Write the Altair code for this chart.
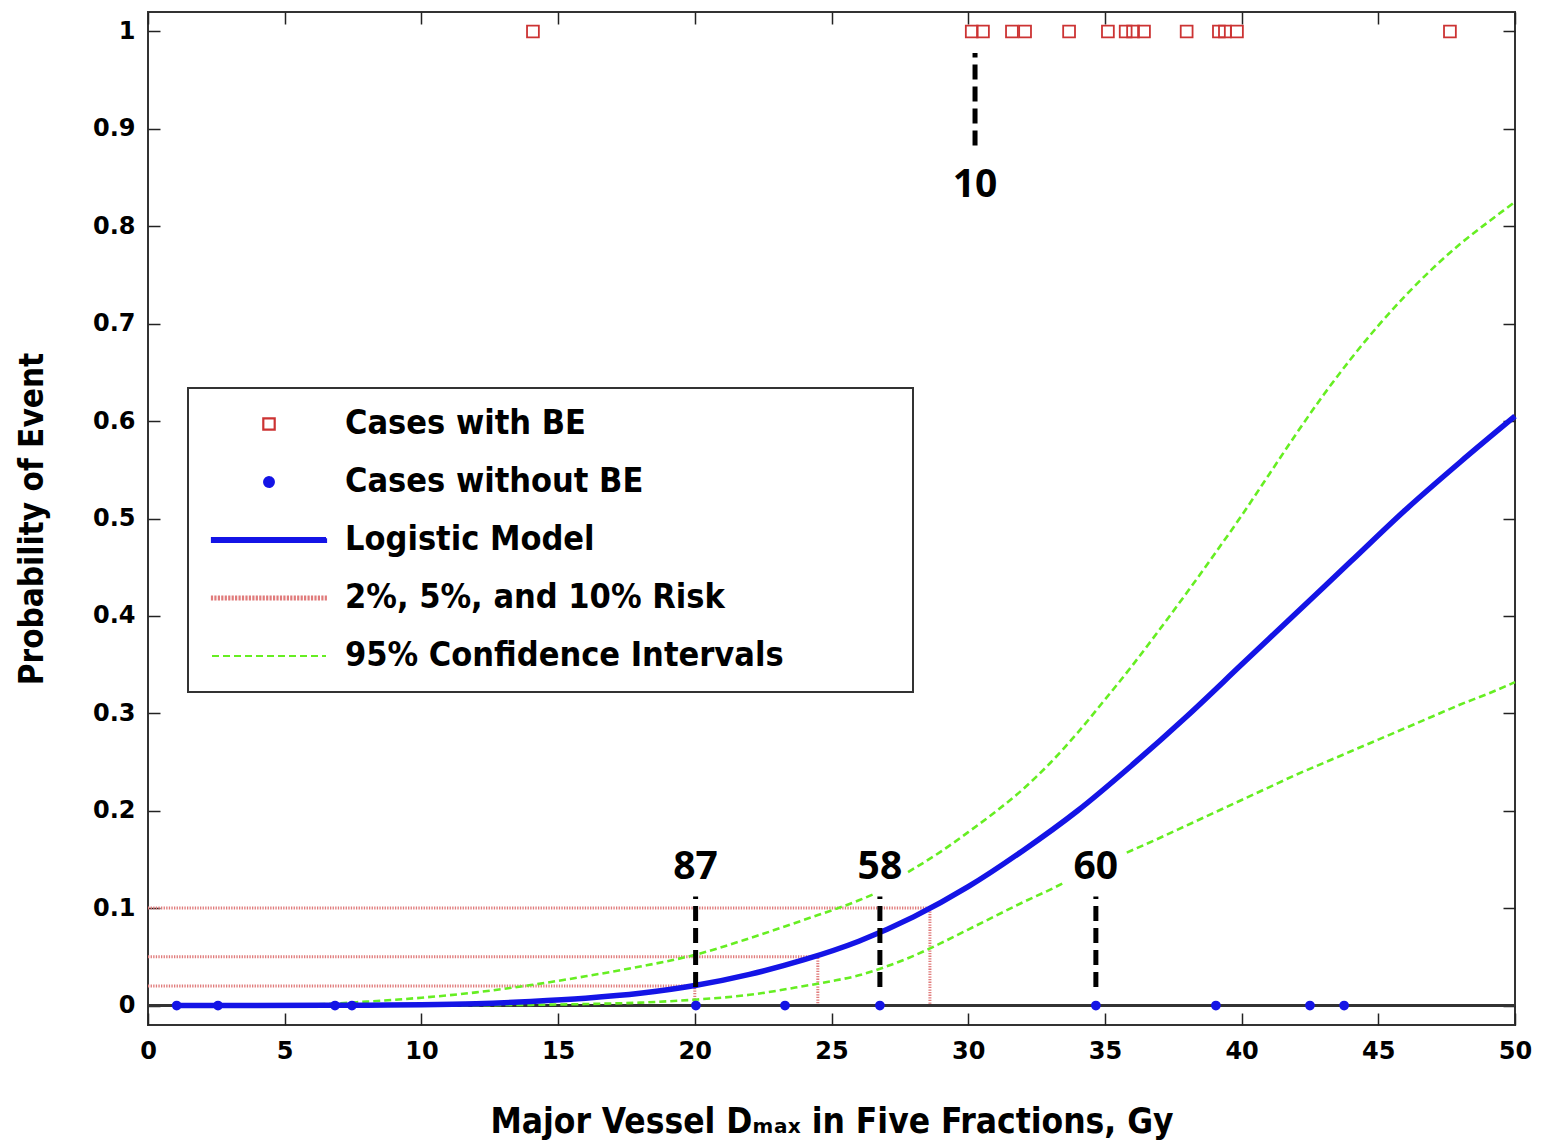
import altair as alt
import pandas as pd

# ---------------- data ----------------
dose_with_be = [14.08, 30.13, 30.54, 31.60, 32.08, 33.69, 35.11, 35.76, 36.03,
                36.43, 37.99, 39.17, 39.39, 39.83, 47.62]
dose_without_be = [1.05, 2.56, 6.84, 7.46, 20.04, 23.30, 26.77, 34.67, 39.06,
                   42.50, 43.75]

model_dose = [1, 4, 8, 10, 12, 14, 16, 18, 20, 22, 24, 26, 28, 30, 32, 34, 36,
              38, 40, 42, 44, 46, 48, 50]
model_prob = [0.0, 0.0001, 0.0004, 0.0008, 0.0019, 0.0042, 0.0075, 0.0125,
              0.0205, 0.032, 0.047, 0.066, 0.091, 0.122, 0.159, 0.200, 0.247,
              0.297, 0.350, 0.403, 0.456, 0.509, 0.558, 0.605]

upper_dose_a = [1, 4, 6, 8, 10, 12, 14, 16, 18, 20, 22, 24, 26, 26.6]
upper_prob_a = [0.0, 0.0003, 0.001, 0.004, 0.008, 0.0135, 0.021, 0.030, 0.040,
                0.052, 0.069, 0.088, 0.108, 0.115]
upper_dose_b = [27.8, 29, 30, 31, 32, 33, 34, 35, 36, 37, 38, 39, 40, 41, 42,
                43, 44, 45, 46, 47, 48, 49, 50]
upper_prob_b = [0.137, 0.158, 0.178, 0.199, 0.222, 0.249, 0.280, 0.314, 0.349,
                0.386, 0.424, 0.463, 0.503, 0.545, 0.587, 0.627, 0.664, 0.698,
                0.729, 0.757, 0.782, 0.804, 0.825]
lower_dose_a = [1, 10, 14, 16, 18, 20, 22, 24, 25, 26, 27, 28, 29, 30, 31, 32,
                33, 33.5]
lower_prob_a = [0.0, 0.0002, 0.0007, 0.0015, 0.003, 0.006, 0.011, 0.020, 0.025,
                0.031, 0.040, 0.051, 0.064, 0.078, 0.092, 0.106, 0.119, 0.126]
lower_dose_b = [35.8, 37, 38, 39, 40, 41, 42, 43, 44, 45, 46, 47, 48, 49, 50]
lower_prob_b = [0.157, 0.172, 0.185, 0.198, 0.211, 0.224, 0.237, 0.249, 0.261,
                0.273, 0.285, 0.297, 0.309, 0.320, 0.332]

risk_prob = [0.02, 0.05, 0.10]
risk_dose = [20.0, 24.5, 28.6]

ann_dose = [20.03, 26.77, 34.67, 30.25]
ann_text = ["87", "58", "60", "10"]
ann_lo = [0.019, 0.019, 0.019, 0.883]
ann_hi = [0.112, 0.112, 0.112, 0.978]
ann_text_y = [0.130, 0.130, 0.130, 0.830]

x_ticks = [0, 5, 10, 15, 20, 25, 30, 35, 40, 45, 50]
y_ticks = [0, 0.1, 0.2, 0.3, 0.4, 0.5, 0.6, 0.7, 0.8, 0.9, 1.0]

legend_labels = ["Cases with BE", "Cases without BE", "Logistic Model",
                 "2%, 5%, and 10% Risk", "95% Confidence Intervals"]

# ---------------- styles ----------------
BLUE = "#1414e6"
GREEN = "#66ee22"
RED_SQ = "#cc3333"
RED_RISK = "#e07b7b"
COND = "'DejaVu Sans Condensed', 'Liberation Sans Narrow', 'Roboto Condensed', Roboto, sans-serif"
WIDE = "DejaVu Sans, Verdana, sans-serif"

SQUARE_PATH = "M-0.95,-0.95H0.95V0.95H-0.95Z"
CIRCLE_PATH = "M0.8,0A0.8,0.8 0 1,1 -0.8,0A0.8,0.8 0 1,1 0.8,0Z"
THICK_LINE_PATH = "M-9.5,-0.3H9.5V0.3H-9.5Z"
LINE_PATH = "M-9.5,0H9.5"
TICKS_PATH = "".join("M%.2f,-0.4V0.4" % (-9.5 + i * 0.575) for i in range(34))

legend_shapes = [SQUARE_PATH, CIRCLE_PATH, THICK_LINE_PATH, TICKS_PATH, LINE_PATH]
legend_fills = ["white", BLUE, BLUE, "transparent", "transparent"]
legend_strokes = [RED_SQ, BLUE, BLUE, RED_RISK, GREEN]
legend_dashes = [[1, 0], [1, 0], [1, 0], [1, 0], [7, 4]]

# ---------------- tables ----------------
df_be = pd.DataFrame({"x": dose_with_be, "p": [1.0] * len(dose_with_be)})
df_nobe = pd.DataFrame({"x": dose_without_be, "p": [0.0] * len(dose_without_be)})
df_model = pd.DataFrame({"x": model_dose, "p": model_prob})

ci_parts = []
for name, xs_, ps_ in [("ua", upper_dose_a, upper_prob_a), ("ub", upper_dose_b, upper_prob_b),
                       ("la", lower_dose_a, lower_prob_a), ("lb", lower_dose_b, lower_prob_b)]:
    ci_parts.append(pd.DataFrame({"x": xs_, "p": ps_, "seg": name}))
df_ci = pd.concat(ci_parts, ignore_index=True)

risk_rows = []
for k, (rp, rd) in enumerate(zip(risk_prob, risk_dose)):
    risk_rows += [{"x": 0.0, "p": rp, "grp": k, "o": 0},
                  {"x": rd, "p": rp, "grp": k, "o": 1},
                  {"x": rd, "p": 0.0, "grp": k, "o": 2}]
df_risk = pd.DataFrame(risk_rows)

df_ann = pd.DataFrame({"x": ann_dose, "lo": ann_lo, "hi": ann_hi,
                       "t": ann_text, "ty": ann_text_y})
df_leg = pd.DataFrame({"series": legend_labels, "x": [25.0] * 5, "p": [0.5] * 5})

# ---------------- scales & axes ----------------
xs = alt.Scale(domain=[0, 50], nice=False, zero=False)
ys = alt.Scale(domain=[-0.02, 1.02], nice=False, zero=False)

common_tick = dict(offset=-12, domain=False, grid=False, tickSize=12,
                   tickWidth=1.5, tickColor="#222222")

ax_bottom = alt.Axis(orient="bottom", values=x_ticks, format="d",
                     labelFont=WIDE, labelFontSize=24, labelFontWeight="bold",
                     labelColor="black", labelPadding=14, labelFlush=False,
                     labelOverlap=False,
                     title="Major Vessel Dₘₐₓ in Five Fractions, Gy",
                     titleFont=COND, titleFontSize=35, titleFontWeight="bold",
                     titleColor="black", titleBaseline="alphabetic", titleY=119,
                     **common_tick)
ax_top = alt.Axis(orient="top", values=x_ticks, labels=False, title=None, **common_tick)
ax_left = alt.Axis(orient="left", values=y_ticks, format=".1~f",
                   labelFont=WIDE, labelFontSize=24, labelFontWeight="bold",
                   labelColor="black", labelPadding=13, labelFlush=False,
                   labelOverlap=False,
                   title="Probability of Event", titleFont=COND, titleFontSize=33,
                   titleFontWeight="bold", titleColor="black",
                   titleX=-128, titleBaseline="middle", **common_tick)
ax_right = alt.Axis(orient="right", values=y_ticks, labels=False, title=None, **common_tick)

# an invisible (white) title on the right widens the legend box like the original
leg = alt.Legend(title=".", titleOrient="right", titleColor="white",
                 titleFontSize=12, titlePadding=106,
                 orient="none", legendX=40, legendY=376,
                 direction="vertical", columns=1, padding=19,
                 fillColor="white", strokeColor="#333333",
                 labelFont=COND, labelFontSize=34, labelFontWeight="bold",
                 labelColor="black", labelLimit=900, labelOffset=59,
                 symbolOffset=45, rowPadding=24, symbolSize=144,
                 symbolOpacity=1, symbolStrokeWidth=2.2)

# ---------------- layers ----------------
base_x = lambda ax=None: alt.X("x:Q", scale=xs, axis=ax)
base_y = lambda ax=None: alt.Y("p:Q", scale=ys, axis=ax)

risk = alt.Chart(df_risk).mark_line(color=RED_RISK, strokeWidth=3,
                                    strokeDash=[1.3, 1.3]).encode(
    x=base_x(ax_bottom), y=base_y(ax_left), detail="grp:N", order="o:Q")

zero = alt.Chart(df_model).mark_rule(color="#333333", strokeWidth=2).encode(
    y=alt.datum(0, scale=ys, axis=None))

ci = alt.Chart(df_ci).mark_line(color=GREEN, strokeWidth=2.6, strokeDash=[7, 4],
                                interpolate="monotone").encode(
    x=base_x(ax_top), y=base_y(ax_right), detail="seg:N")

model = alt.Chart(df_model).mark_line(color=BLUE, strokeWidth=5.5,
                                      interpolate="monotone").encode(
    x=base_x(), y=base_y())

nobe = alt.Chart(df_nobe).mark_circle(color=BLUE, size=95, opacity=1).encode(
    x=base_x(), y=base_y())

be = alt.Chart(df_be).mark_square(filled=False, color=RED_SQ, size=140,
                                  strokeWidth=1.8, opacity=1).encode(
    x=base_x(), y=base_y())

ann_lines = alt.Chart(df_ann).mark_rule(color="black", strokeWidth=5,
                                        strokeDash=[15, 7]).encode(
    x=base_x(), y=alt.Y("lo:Q", scale=ys, axis=None), y2="hi:Q")

ann_labels = alt.Chart(df_ann).mark_text(font="Noto Sans", fontSize=39,
                                         fontWeight="bold", color="black",
                                         align="center", baseline="alphabetic").encode(
    x=base_x(), y=alt.Y("ty:Q", scale=ys, axis=None), text="t:N")

legend_layer = alt.Chart(df_leg).mark_point().encode(
    x=base_x(), y=base_y(),
    fill=alt.Fill("series:N", scale=alt.Scale(domain=legend_labels, range=legend_fills), legend=leg),
    stroke=alt.Stroke("series:N", scale=alt.Scale(domain=legend_labels, range=legend_strokes), legend=leg),
    shape=alt.Shape("series:N", scale=alt.Scale(domain=legend_labels, range=legend_shapes), legend=leg),
    strokeDash=alt.StrokeDash("series:N", scale=alt.Scale(domain=legend_labels, range=legend_dashes), legend=leg),
    opacity=alt.value(0),
)

chart = alt.layer(risk, zero, ci, model, nobe, be, ann_lines, ann_labels,
                  legend_layer).resolve_axis(x="independent", y="independent").properties(
    width=1367, height=1013,
    autosize=alt.AutoSizeParams(type="none"),
    padding={"left": 148, "top": 12, "right": 27, "bottom": 115},
    background="white",
).configure_view(stroke="#333333", strokeWidth=2).configure_legend(strokeWidth=2)

chart.save("out.html", embed_options={"renderer": "svg", "actions": False})
